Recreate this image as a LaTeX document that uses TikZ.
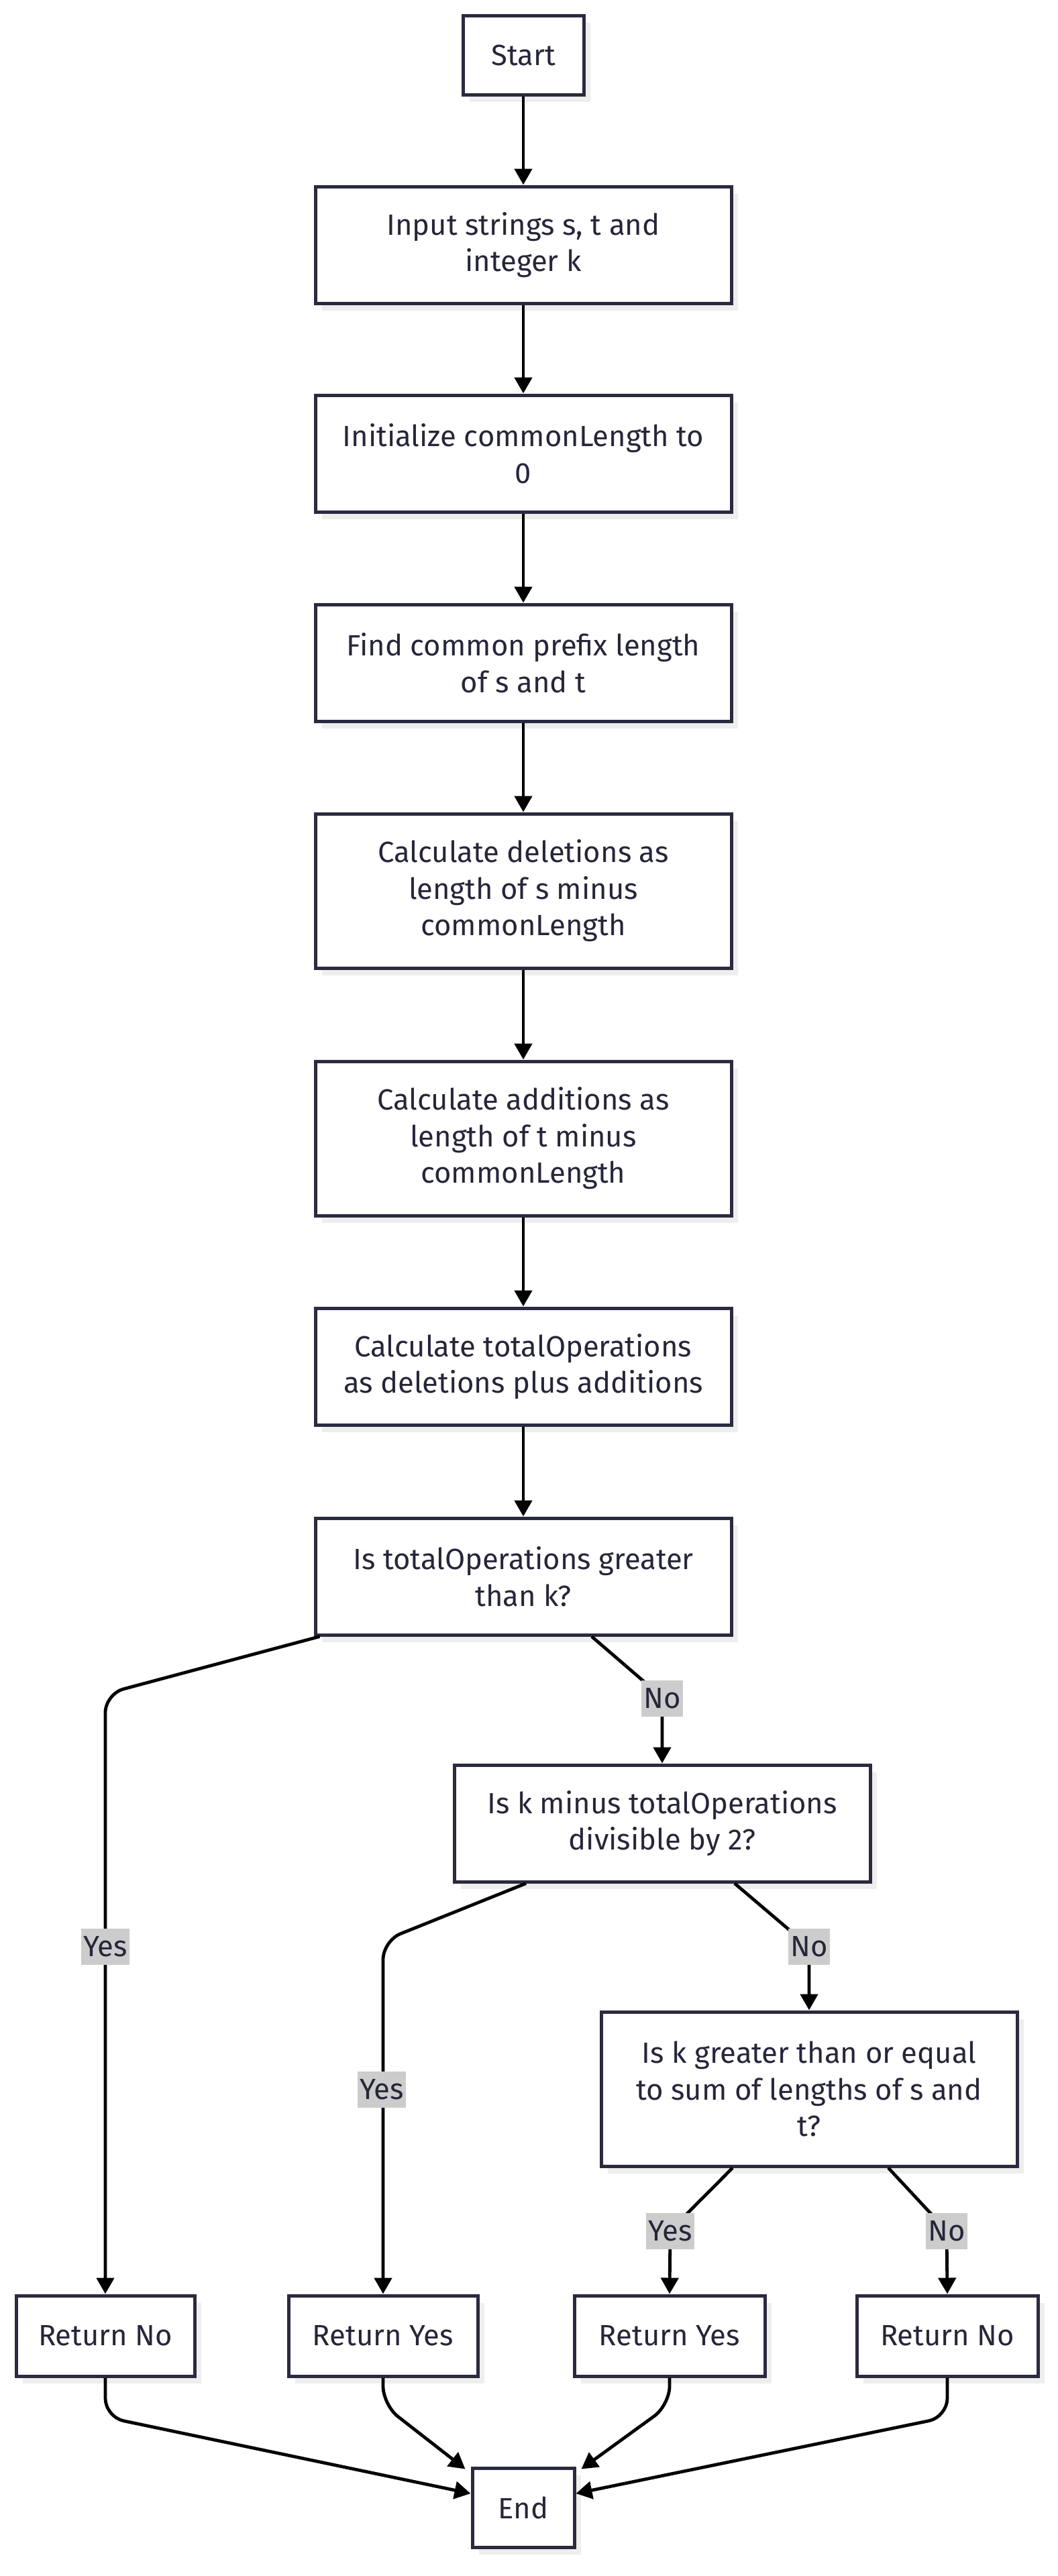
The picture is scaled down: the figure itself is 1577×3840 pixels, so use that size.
\documentclass[tikz,border=0pt]{standalone}
\usepackage{fontspec}
\setmainfont{Fira Sans}
\usetikzlibrary{arrows.meta,shadows,calc}
\definecolor{boxc}{RGB}{42,42,64}
\definecolor{txtc}{RGB}{38,38,58}
\definecolor{shadc}{RGB}{238,238,238}
\definecolor{lblc}{RGB}{204,204,204}
\begin{document}
\begin{tikzpicture}[x=0.5pt,y=-0.5pt,
  box/.style={draw=boxc, line width=2.5pt, fill=white, text=txtc, align=center,
    font=\fontsize{21.8}{27.3}\selectfont, inner sep=0pt,
    drop shadow={shadow xshift=5pt, shadow yshift=-5.5pt, fill=shadc, opacity=1}},
  wbox/.style={box, minimum width=310pt, minimum height=87pt},
  tbox/.style={box, minimum width=310pt, minimum height=115pt},
  edge/.style={line width=2.4pt, black, rounded corners=14pt,
    -{Triangle[length=12pt,width=13pt]}},
  lbl/.style={fill=lblc, text=txtc, font=\fontsize{21.8}{27.3}\selectfont,
    inner xsep=1.5pt, inner ysep=0pt, minimum height=27pt}]
\useasboundingbox (0,0) rectangle (1577,3840);

\node[box, minimum width=90pt, minimum height=59pt] (start) at (780,82) {Start};
\node[wbox] (input) at (780,365) {Input strings s, t and\\integer k};
\node[wbox] (init) at (780,676) {Initialize commonLength to\\0};
\node[wbox] (find) at (780,988) {Find common prefix length\\of s and t};
\node[tbox] (del) at (780,1328) {Calculate deletions as\\length of s minus\\commonLength};
\node[tbox] (add) at (780,1697) {Calculate additions as\\length of t minus\\commonLength};
\node[wbox] (tot) at (780,2037) {Calculate totalOperations\\as deletions plus additions};
\node[wbox] (istot) at (780,2350) {Is totalOperations greater\\than k?};
\node[wbox] (iskm) at (987,2718) {Is k minus totalOperations\\divisible by 2?};
\node[tbox] (iskg) at (1206,3114) {Is k greater than or equal\\to sum of lengths of s and\\t?};
\node[box, minimum width=133pt, minimum height=60pt] (rn1) at (157,3482) {Return No};
\node[box, minimum width=141pt, minimum height=60pt] (ry1) at (571,3482) {Return Yes};
\node[box, minimum width=142pt, minimum height=60pt] (ry2) at (998,3482) {Return Yes};
\node[box, minimum width=135pt, minimum height=60pt] (rn2) at (1412,3482) {Return No};
\node[box, minimum width=76pt, minimum height=59pt] (end) at (780,3738) {End};

\draw[edge] (start) -- (input);
\draw[edge] (input) -- (init);
\draw[edge] (init) -- (find);
\draw[edge] (find) -- (del);
\draw[edge] (del) -- (add);
\draw[edge] (add) -- (tot);
\draw[edge] (tot) -- (istot);

\draw[edge] ($(istot.south west)+(9,0)$) -- (157,2525) -- (rn1.north);
\draw[edge] ($(istot.south)+(102,0)$) -- (987,2530) -- (iskm.north);
\draw[edge] ($(iskm.south)+(-203,0)$) -- (571,2893) -- (ry1.north);
\draw[edge] ($(iskm.south)+(108,0)$) -- (1206,2902) -- (iskg.north);
\draw[edge] ($(iskg.south)+(-114,0)$) -- (999,3325) -- (ry2.north);
\draw[edge] ($(iskg.south)+(118,0)$) -- (1411,3325) -- (rn2.north);

\draw[edge] (rn1.south) -- (157,3603) -- ($(end.west)+(0,-21)$);
\draw[edge] (ry1.south) -- (571,3585) -- ($(end.north west)+(-8,4)$);
\draw[edge] (ry2.south) -- (998,3585) -- ($(end.north east)+(8,4)$);
\draw[edge] (rn2.south) -- (1412,3603) -- ($(end.east)+(0,-21)$);

\node[lbl] (l1) at (157,2902) {Yes};
\node[lbl] (l2) at (987,2532) {No};
\node[lbl] (l3) at (569,3115) {Yes};
\node[lbl] (l4) at (1206,2902) {No};
\node[lbl] (l5) at (999,3326) {Yes};
\node[lbl] (l6) at (1411,3326) {No};
\end{tikzpicture}
\end{document}
